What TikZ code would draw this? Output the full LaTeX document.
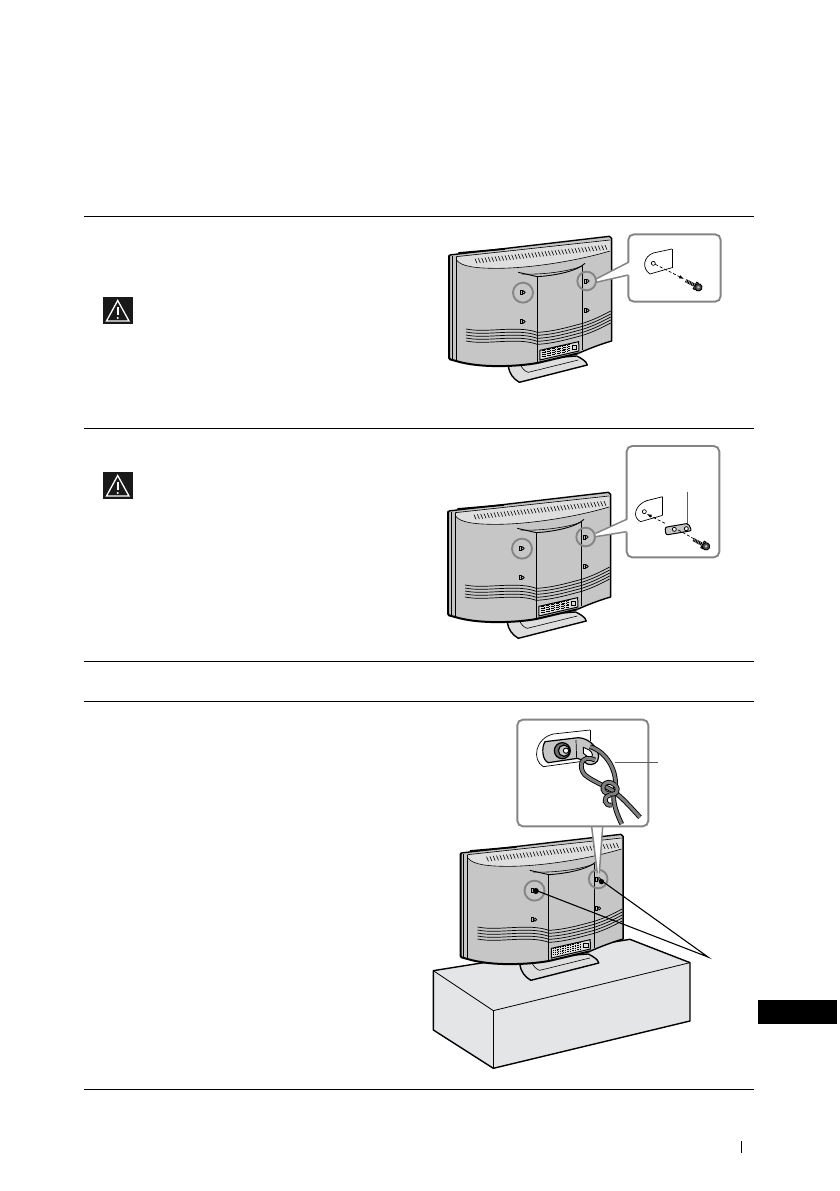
\documentclass[tikz,border=0pt]{standalone}
\usetikzlibrary{arrows.meta}
\definecolor{tvgrey}{HTML}{C6C6C6}
\definecolor{tvlight}{HTML}{DEDEDE}
\definecolor{ringgrey}{HTML}{858585}
\definecolor{boxgrey}{HTML}{E4E5E6}
\tikzset{
  rule/.style={black,line width=0.9pt},
  tvline/.style={black,line width=0.6pt},
  tvedge/.style={black,line width=1.4pt,line join=round},
  ring/.style={ringgrey,line width=1.9pt},
  callout/.style={ringgrey,line width=1.9pt,rounded corners=5.5pt,fill=white},
  wedge/.style={ringgrey,line width=1.5pt},
  cord/.style={draw=black,line width=0.9pt,double=black!50,double distance=3pt},
  leaderline/.style={ringgrey!70!black,line width=1.3pt},
  pointer/.style={black,line width=1.1pt}
}
\newcommand{\tvshape}{%
  % stand
  \draw[tvedge,fill=tvlight] (235,425) .. controls (238,445) and (250,462) .. (268,472)
     -- (472,420) .. controls (470,410) and (455,400) .. (440,393) -- (270,405) -- cycle;
  \draw[tvline] (270,415) .. controls (275,430) and (285,440) .. (295,442) -- (445,405);
  % body
  \fill[tvgrey] (57,92) -- (540,35) -- (545,40) -- (545,348)
     .. controls (510,358) and (475,372) .. (445,385) -- (322,413)
     .. controls (260,425) and (150,430) .. (80,408) -- (57,400) -- cycle;
  \fill[tvlight] (78,97) -- (540,45) -- (540,78)
     .. controls (440,108) and (300,130) .. (200,130)
     .. controls (140,130) and (95,125) .. (78,105) -- cycle;
  \draw[tvedge] (59,90) -- (538,34) -- (545,40) -- (545,348)
     .. controls (510,358) and (475,372) .. (445,385);
  \draw[black,line width=2pt] (59,90) -- (57,95) -- (57,398) -- (60,403) -- (78,408)
     .. controls (150,430) and (260,425) .. (322,414) -- (445,385);
  \draw[tvline] (78,95) -- (540,45);
  \draw[black,line width=.9pt] (78,95) -- (78,408);
  \draw[tvline] (66,94) -- (66,402);
  \draw[black,line width=1.7pt] (85,84) -- (225,72);
  \draw[tvline] (80,106) .. controls (95,125) and (140,130) .. (200,130)
     .. controls (300,130) and (440,108) .. (540,78);
  % vents
  \foreach \vx in {135,145,...,530}{
    \pgfmathsetmacro{\vy}{101-(\vx-135)*0.105}
    \draw[black,line width=.6pt] (\vx,\vy) -- ++(6,14);
  }
  % centre panel
  \draw[black,line width=.9pt] (265,142) -- (322,155) .. controls (370,152) and (440,140) .. (465,115);
  \draw[black,line width=.9pt] (322,155) -- (322,414);
  \draw[black,line width=.9pt] (458,122) -- (458,376);
  \draw[tvline] (275,147) .. controls (330,150) and (420,140) .. (458,122);
  % wave lines
  \foreach \wy in {0,9,18,27,36}{
    \draw[black,line width=.7pt] (108,312+\wy) .. controls (170,325+\wy) and (260,300+\wy) .. (322,322+\wy)
       .. controls (370,320+\wy) and (420,305+\wy) .. (458,295+\wy)
       .. controls (490,285+\wy) and (520,270+\wy) .. (542,258+\wy);
  }
  % connector panel
  \draw[black,line width=1pt,fill=tvlight] (330,376) -- (446,350) -- (447,378) -- (330,405) -- cycle;
  \foreach \cx in {337,342,...,418}{
    \pgfmathsetmacro{\cy}{375-(\cx-338)*0.22}
    \draw[black,line width=1.1pt,densely dotted] (\cx,\cy) -- ++(0,19);
  }
  \draw[black,line width=.7pt] (426,362) rectangle (440,374);
  % screws
  \foreach \sx/\sy in {278/202,470/168,470/256,278/290}{
    \draw[black,line width=.8pt,fill=tvlight] (\sx+3,\sy) circle (4.5);
    \draw[black,line width=.8pt] (\sx-7,\sy-6) rectangle (\sx-2,\sy+6);
  }
}
\newcommand{\tvrings}{%
  \draw[ring] (279,203) circle (30);
  \draw[ring] (470,168) circle (28);
}
\newcommand{\boltshape}[2]{%
  \begin{scope}[shift={(#1,#2)},rotate=-28]
    \fill[black] (-28,-5) rectangle (0,5);
    \foreach \bx in {-26,-21,...,-4}{\draw[white,line width=.3pt] (\bx,-5) -- (\bx+2,5);}
    \draw[black,fill=tvgrey,line width=.9pt] (3,-11) rectangle (9,11);
    \draw[black,fill=black!70,line width=.9pt] (15,0) circle (11);
    \fill[tvgrey] (15,0) circle (4);
  \end{scope}
}
\begin{document}
\begin{tikzpicture}[x=1pt,y=-1pt]
  \useasboundingbox (0,0) rectangle (839,1191);
  \fill[white] (0,0) rectangle (839,1191);
  % rules
  \foreach \ry in {216.5,428.5,661.5,701.5,1089.5}{
    \draw[rule] (84,\ry) -- (753.5,\ry);
  }
  \fill[black] (758,1000) rectangle (837,1024);
  \draw[black,line width=.7pt] (741.5,1141) -- (741.5,1153);
  % warning icons
  \foreach \wx/\wy in {103/297,103/472}{
    \fill[black!90] (\wx,\wy) rectangle ++(29.5,27);
    \draw[white,line width=1.3pt,line join=miter] (\wx+14.7,\wy+3.5) -- (\wx+3.5,\wy+24) -- (\wx+26,\wy+24) -- cycle;
    \draw[white,line width=1.8pt] (\wx+14.7,\wy+10) -- (\wx+14.7,\wy+18);
    \fill[white] (\wx+14.7,\wy+21) circle (1.1);
  }
  % ---------- first TV
  \begin{scope}[shift={(430,225)},x=0.3333pt,y=-0.3333pt]
    \tvshape
    \draw[callout] (595,28) rectangle (872,230);
    \fill[white] (500,162) -- (600,112) -- (600,150) -- (500,172) -- cycle;
    \draw[wedge] (498,162) -- (595,112);
    \draw[wedge] (498,172) -- (595,150);
    \tvrings
    \draw[black,line width=.7pt] (726,72) -- (670,84) .. controls (640,95) and (635,130) .. (660,147) -- (726,128);
    \draw[black,line width=.7pt] (726,72) -- (726,128);
    \draw[black,line width=.7pt] (670,115) circle (6);
    \draw[black,line width=.7pt,densely dashed,-{Latex[length=5pt,width=3.5pt]}] (676,118) -- (762,162);
    \boltshape{792}{180}
  \end{scope}
  % ---------- second TV
  \begin{scope}[shift={(429,481)},x=0.3333pt,y=-0.3333pt]
    \tvshape
    \tvrings
  \end{scope}
  \begin{scope}[shift={(430,440)},x=0.3333pt,y=-0.3333pt]
    \draw[callout] (590,18) rectangle (868,352);
    \fill[white] (498,278) -- (596,238) -- (596,276) -- (498,290) -- cycle;
    \draw[wedge] (497,280) -- (590,238);
    \draw[wedge] (497,290) -- (590,275);
    \draw[black,line width=.7pt] (698,170) -- (650,182) .. controls (615,195) and (605,232) .. (632,245) -- (698,226);
    \draw[black,line width=.7pt] (698,170) -- (698,226);
    \draw[black,line width=.7pt] (643,215) circle (6);
    \draw[black,line width=.7pt,densely dashed,-{Latex[length=5pt,width=3.5pt]}] (705,250) -- (650,222);
    \coordinate (bracketTop) at (773,155);
    \coordinate (bracketEnd) at (773,252);
    \draw[leaderline] (bracketTop) -- (bracketEnd);
    \draw[black,line width=1pt,fill=tvgrey,rounded corners=2pt] (705,262) -- (775,250) -- (785,272) -- (708,285) -- cycle;
    \draw[black,line width=.8pt,fill=white] (733,268) circle (6);
    \draw[black,line width=.8pt,fill=white] (769,266) circle (6);
    \draw[black,line width=.7pt,densely dashed] (745,270) -- (795,298);
    \boltshape{815}{312}
  \end{scope}
  % ---------- third TV: box
  \begin{scope}[shift={(420,840)},x=0.3333pt,y=-0.3333pt]
    \draw[black,line width=1.4pt,line join=round,fill=boxgrey] (40,392) -- (630,298) -- (810,368) -- (810,543) -- (220,685) -- (40,570) -- cycle;
    \draw[black,line width=.8pt] (40,392) -- (220,512) -- (810,368);
    \draw[black,line width=.8pt] (220,512) -- (220,685);
  \end{scope}
  \begin{scope}[shift={(441.5,823)},x=0.3333pt,y=-0.3333pt]
    \tvshape
    \tvrings
    \fill[black] (283,204) circle (9);
    \fill[black] (480,176) circle (8);
  \end{scope}
  % third callout
  \begin{scope}[shift={(500,710)},x=0.3333pt,y=-0.3333pt]
    \fill[white] (275,345) -- (308,345) -- (297,490) -- (293,490) -- cycle;
    \draw[wedge] (275,350) -- (292,490);
    \draw[wedge] (308,350) -- (298,490);
    \draw[callout] (52,29) rectangle (445,349);
    % plate
    \draw[black,line width=.7pt] (270,60) -- (160,72) .. controls (105,85) and (95,150) .. (130,170) -- (240,155);
    \draw[black,line width=.7pt] (270,60) -- (270,92);
    % bracket
    \draw[black,line width=1.2pt,fill=tvgrey] (135,95) -- (235,83) .. controls (270,85) and (295,115) .. (296,140)
       .. controls (296,160) and (275,168) .. (262,162) .. controls (245,150) and (240,145) .. (232,145)
       -- (145,158) .. controls (125,150) and (125,110) .. (135,95) -- cycle;
    \draw[black,line width=.7pt] (228,90) -- (230,145);
    \fill[white,draw=black,line width=.9pt] (250,112) -- (268,120) .. controls (280,130) and (280,140) .. (270,145) -- (250,130) -- cycle;
    % bolt
    \draw[black,line width=1.2pt,fill=black!55] (187,122) circle (24);
    \draw[black,line width=1.2pt,fill=tvgrey] (192,122) circle (17);
    \draw[black,line width=.9pt,fill=white] (198,122) circle (8);
    % cord
    \coordinate (cordLeader) at (345,158);
    \coordinate (cordLabel) at (473,158);
    \draw[cord] (270,110) .. controls (320,125) and (355,185) .. (345,240)
       .. controls (335,265) and (345,300) .. (365,342);
    \draw[cord] (285,150) .. controls (240,130) and (235,175) .. (255,195)
       .. controls (280,215) and (310,225) .. (335,240)
       .. controls (360,255) and (395,295) .. (420,322);
    \draw[cord] (345,225) .. controls (315,200) and (295,240) .. (320,250)
       .. controls (350,260) and (360,240) .. (345,225);
    \draw[cord] (330,255) .. controls (305,262) and (315,290) .. (335,285);
    \draw[leaderline] (cordLeader) -- (cordLabel);
  \end{scope}
  % pointers
  \coordinate (pointerTip) at (708,957);
  \coordinate (screwA) at (535,890);
  \coordinate (screwB) at (602,881);
  \draw[pointer] (screwA) -- (pointerTip) -- (screwB);
\end{tikzpicture}
\end{document}
